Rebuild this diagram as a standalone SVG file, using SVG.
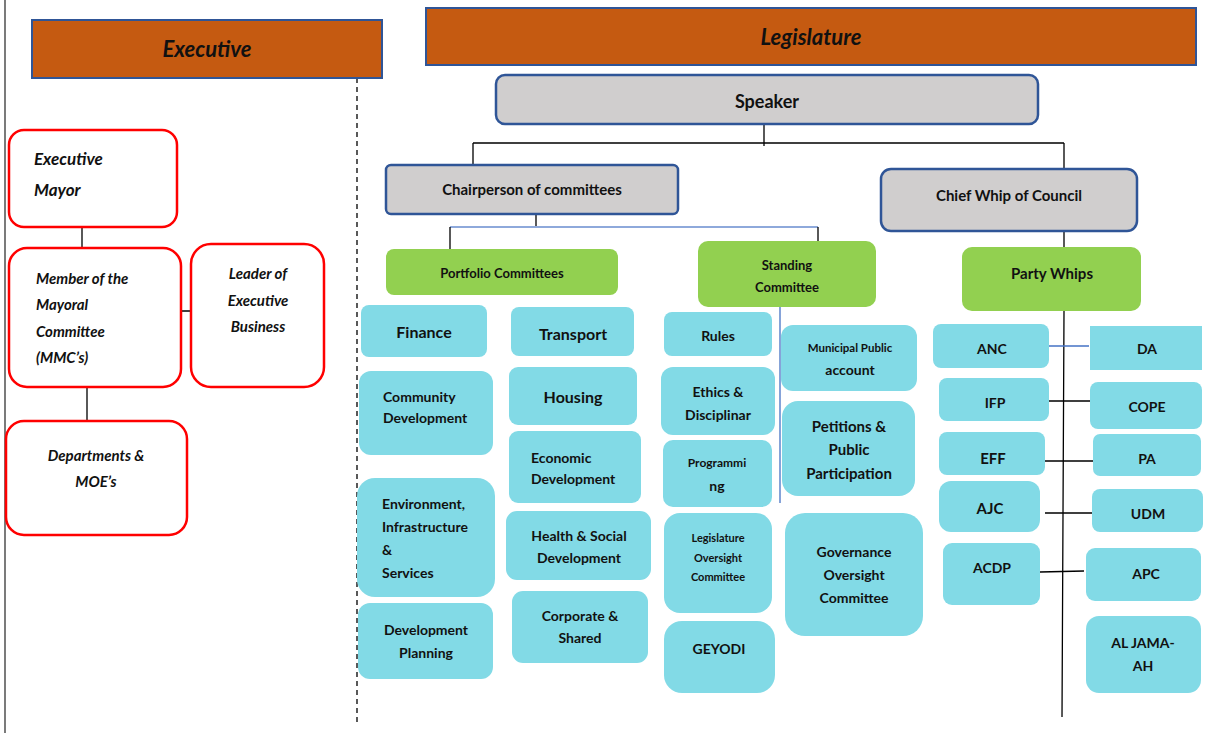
<svg xmlns="http://www.w3.org/2000/svg" width="1208" height="733" viewBox="0 0 1208 733">
<style>
text{font-family:Lato,"Open Sans","Liberation Sans",sans-serif;font-weight:bold;fill:#111;dominant-baseline:central}
.c{text-anchor:middle}
.it{font-style:italic}
.hdr{fill:#C55A11;stroke:#2F5597;stroke-width:2}
.gray{fill:#D0CECE;stroke:#2F5597;stroke-width:2.5}
.green{fill:#92D050}
.blue{fill:#82DAE6}
.red{fill:#fff;stroke:#FF0000;stroke-width:2.5}
.ln{stroke:#000;stroke-width:1.3;fill:none}
.lb{stroke:#4472C4;stroke-width:1.3;fill:none}
.lbl{stroke:#8EA9DB;stroke-width:2;fill:none}
</style>
<rect width="1208" height="733" fill="#fff"/>
<g id="connectors">
<line x1="5" y1="0" x2="5" y2="733" stroke="#333" stroke-width="1.3"/>
<line x1="357" y1="78" x2="357" y2="726" stroke="#000" stroke-width="1.3" stroke-dasharray="5,4"/>
<path class="ln" d="M764 124V146M473 143H1064M473 143V165M1064 143V169"/>
<path class="ln" d="M536 214V227"/>
<path class="lbl" d="M450 227H818"/>
<path class="ln" d="M450 227V249M818 227V241"/>
<path class="lb" d="M780 307V503"/>
<path class="ln" d="M1064 231V247M1064 311L1062 717"/>
<path class="lb" d="M1046 346H1089"/>
<path class="ln" d="M1045 401H1090M1045 461H1094M1045 513H1092M1040 572L1084 571"/>
<path class="ln" d="M82 227V248M177 311H192M87 387V421"/>
</g>
<g id="executive"><rect class="hdr" x="32" y="20" width="350" height="58"/><text class="c it" x="207" y="48" font-size="22">Executive</text></g>
<g id="legislature"><rect class="hdr" x="426" y="8" width="770" height="57"/><text class="c it" x="811" y="36" font-size="22">Legislature</text></g>
<g id="speaker"><rect class="gray" x="496" y="75" width="542" height="49" rx="9"/><text class="c" x="767" y="101" font-size="18">Speaker</text></g>
<g id="chairperson"><rect class="gray" x="386" y="165" width="292" height="49" rx="5"/><text class="c" x="532" y="189" font-size="15">Chairperson of committees</text></g>
<g id="chiefwhip"><rect class="gray" x="881" y="169" width="256" height="62" rx="10"/><text class="c" x="1009" y="195" font-size="15">Chief Whip of Council</text></g>
<g id="portfolio"><rect class="green" x="386" y="249" width="232" height="46" rx="8"/><text class="c" x="502" y="273" font-size="13">Portfolio Committees</text></g>
<g id="standing"><rect class="green" x="698" y="241" width="178" height="66" rx="10"/><text class="c" x="787" y="265" font-size="13">Standing</text><text class="c" x="787" y="287" font-size="13">Committee</text></g>
<g id="partywhips"><rect class="green" x="962" y="247" width="179" height="64" rx="10"/><text class="c" x="1052" y="273" font-size="15">Party Whips</text></g>
<g id="finance"><rect class="blue" x="361" y="305" width="126" height="52" rx="8"/><text class="c" x="424" y="331" font-size="16">Finance</text></g>
<g id="community"><rect class="blue" x="359" y="371" width="134" height="84" rx="12"/><text x="383" y="396" font-size="14">Community</text><text x="383" y="417" font-size="14">Development</text></g>
<g id="environment"><rect class="blue" x="357" y="478" width="138" height="119" rx="18"/><text x="382" y="503" font-size="14">Environment,</text><text x="382" y="526" font-size="14">Infrastructure</text><text x="382" y="549" font-size="14">&amp;</text><text x="382" y="572" font-size="14">Services</text></g>
<g id="devplanning"><rect class="blue" x="358" y="603" width="135" height="76" rx="12"/><text class="c" x="426" y="629" font-size="14">Development</text><text class="c" x="426" y="652" font-size="14">Planning</text></g>
<g id="transport"><rect class="blue" x="511" y="307" width="123" height="49" rx="8"/><text class="c" x="573" y="333" font-size="16">Transport</text></g>
<g id="housing"><rect class="blue" x="509" y="367" width="128" height="58" rx="9"/><text class="c" x="573" y="396" font-size="16">Housing</text></g>
<g id="economic"><rect class="blue" x="509" y="431" width="132" height="72" rx="9"/><text x="531" y="457" font-size="14">Economic</text><text x="531" y="478" font-size="14">Development</text></g>
<g id="health"><rect class="blue" x="506" y="511" width="145" height="69" rx="11"/><text class="c" x="579" y="535" font-size="14">Health &amp; Social</text><text class="c" x="579" y="557" font-size="14">Development</text></g>
<g id="corporate"><rect class="blue" x="512" y="591" width="136" height="72" rx="11"/><text class="c" x="580" y="615" font-size="14">Corporate &amp;</text><text class="c" x="580" y="637" font-size="14">Shared</text></g>
<g id="rules"><rect class="blue" x="664" y="312" width="108" height="44" rx="8"/><text class="c" x="718" y="335" font-size="14">Rules</text></g>
<g id="ethics"><rect class="blue" x="661" y="367" width="114" height="68" rx="12"/><text class="c" x="718" y="391" font-size="14">Ethics &amp;</text><text class="c" x="718" y="414" font-size="14">Disciplinar</text></g>
<g id="programming"><rect class="blue" x="663" y="440" width="109" height="67" rx="10"/><text class="c" x="717" y="462" font-size="12">Programmi</text><text class="c" x="717" y="485" font-size="14">ng</text></g>
<g id="legoversight"><rect class="blue" x="664" y="513" width="108" height="100" rx="16"/><text class="c" x="718" y="537" font-size="11">Legislature</text><text class="c" x="718" y="557" font-size="11">Oversight</text><text class="c" x="718" y="576" font-size="11">Committee</text></g>
<g id="geyodi"><rect class="blue" x="664" y="621" width="111" height="72" rx="18"/><text class="c" x="719" y="648" font-size="14">GEYODI</text></g>
<g id="mpa"><rect class="blue" x="781" y="325" width="136" height="66" rx="12"/><text class="c" x="850" y="347" font-size="11.5">Municipal Public</text><text class="c" x="850" y="369" font-size="14">account</text></g>
<g id="petitions"><rect class="blue" x="782" y="401" width="133" height="95" rx="16"/><text class="c" x="849" y="426" font-size="15">Petitions &amp;</text><text class="c" x="849" y="449" font-size="15">Public</text><text class="c" x="849" y="473" font-size="15">Participation</text></g>
<g id="govoversight"><rect class="blue" x="785" y="513" width="138" height="123" rx="20"/><text class="c" x="854" y="551" font-size="14">Governance</text><text class="c" x="854" y="574" font-size="14">Oversight</text><text class="c" x="854" y="597" font-size="14">Committee</text></g>
<g id="anc"><rect class="blue" x="933" y="324" width="116" height="44" rx="8"/><text class="c" x="992" y="348" font-size="14">ANC</text></g>
<g id="ifp"><rect class="blue" x="939" y="378" width="110" height="43" rx="8"/><text class="c" x="995" y="402" font-size="14">IFP</text></g>
<g id="eff"><rect class="blue" x="939" y="432" width="106" height="43" rx="8"/><text class="c" x="993" y="458" font-size="15">EFF</text></g>
<g id="ajc"><rect class="blue" x="939" y="481" width="101" height="51" rx="12"/><text class="c" x="990" y="508" font-size="15">AJC</text></g>
<g id="acdp"><rect class="blue" x="943" y="543" width="97" height="62" rx="9"/><text class="c" x="992" y="567" font-size="14">ACDP</text></g>
<g id="da"><rect class="blue" x="1090" y="326" width="112" height="44"/><text class="c" x="1147" y="348" font-size="14">DA</text></g>
<g id="cope"><rect class="blue" x="1090" y="382" width="112" height="47" rx="8"/><text class="c" x="1147" y="406" font-size="14">COPE</text></g>
<g id="pa"><rect class="blue" x="1093" y="434" width="108" height="42" rx="7"/><text class="c" x="1147" y="458" font-size="14">PA</text></g>
<g id="udm"><rect class="blue" x="1092" y="489" width="111" height="43" rx="8"/><text class="c" x="1148" y="513" font-size="14">UDM</text></g>
<g id="apc"><rect class="blue" x="1086" y="548" width="115" height="53" rx="9"/><text class="c" x="1146" y="573" font-size="14">APC</text></g>
<g id="aljamaah"><rect class="blue" x="1086" y="616" width="115" height="77" rx="13"/><text class="c" x="1143" y="642" font-size="14">AL JAMA-</text><text class="c" x="1143" y="665" font-size="14">AH</text></g>
<g id="mayor"><rect class="red" x="9" y="130" width="168" height="97" rx="15"/><text class="it" x="34" y="158" font-size="17">Executive</text><text class="it" x="34" y="189" font-size="17">Mayor</text></g>
<g id="mmc"><rect class="red" x="9" y="248" width="172" height="139" rx="18"/><text class="it" x="36" y="278" font-size="15">Member of the</text><text class="it" x="36" y="304" font-size="15">Mayoral</text><text class="it" x="36" y="331" font-size="15">Committee</text><text class="it" x="36" y="357" font-size="15">(MMC’s)</text></g>
<g id="leader"><rect class="red" x="191" y="244" width="133" height="143" rx="20"/><text class="c it" x="258" y="273" font-size="15">Leader of</text><text class="c it" x="258" y="300" font-size="15">Executive</text><text class="c it" x="258" y="326" font-size="15">Business</text></g>
<g id="departments"><rect class="red" x="6" y="421" width="181" height="114" rx="18"/><text class="c it" x="96" y="455" font-size="15">Departments &amp;</text><text class="c it" x="96" y="481" font-size="15">MOE’s</text></g>
</svg>
